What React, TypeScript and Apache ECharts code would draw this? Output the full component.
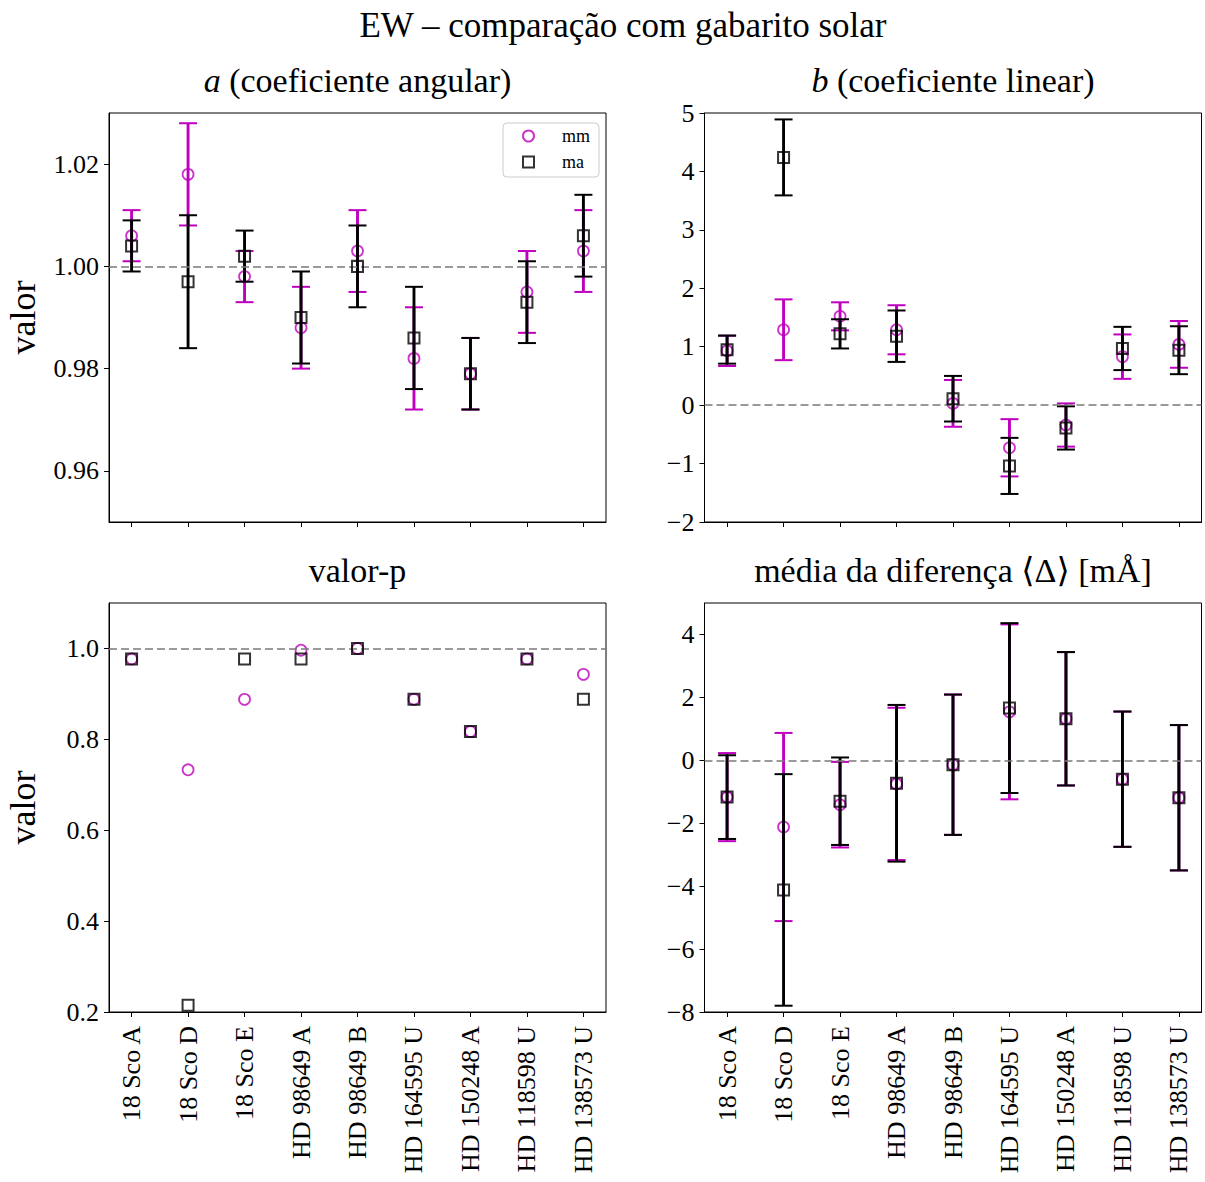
import React, { useEffect, useRef } from "react";
import * as echarts from "echarts";

const categories = [
  "18 Sco A",
  "18 Sco D",
  "18 Sco E",
  "HD 98649 A",
  "HD 98649 B",
  "HD 164595 U",
  "HD 150248 A",
  "HD 118598 U",
  "HD 138573 U",
];

// a (coeficiente angular)
const aMm = [1.006, 1.018, 0.998, 0.988, 1.003, 0.982, 0.979, 0.995, 1.003];
const aMmErr = [0.005, 0.01, 0.005, 0.008, 0.008, 0.01, 0.007, 0.008, 0.008];
const aMa = [1.004, 0.997, 1.002, 0.99, 1.0, 0.986, 0.979, 0.993, 1.006];
const aMaErr = [0.005, 0.013, 0.005, 0.009, 0.008, 0.01, 0.007, 0.008, 0.008];

// b (coeficiente linear)
const bMm = [0.93, 1.29, 1.52, 1.29, 0.03, -0.73, -0.34, 0.83, 1.04];
const bMmErr = [0.26, 0.52, 0.24, 0.42, 0.4, 0.49, 0.37, 0.38, 0.4];
const bMa = [0.95, 4.24, 1.22, 1.18, 0.11, -1.04, -0.39, 0.97, 0.94];
const bMaErr = [0.24, 0.65, 0.25, 0.44, 0.39, 0.48, 0.37, 0.37, 0.41];

// valor-p
const pMm = [0.977, 0.733, 0.888, 0.996, 1.0, 0.888, 0.817, 0.977, 0.943];
const pMa = [0.977, 0.215, 0.977, 0.977, 1.0, 0.888, 0.817, 0.977, 0.888];

// média da diferença
const dMm = [-1.17, -2.12, -1.41, -0.75, -0.14, 1.54, 1.32, -0.6, -1.19];
const dMmErr = [1.4, 2.99, 1.36, 2.42, 2.23, 2.78, 2.12, 2.15, 2.31];
const dMa = [-1.17, -4.12, -1.3, -0.73, -0.14, 1.66, 1.32, -0.6, -1.19];
const dMaErr = [1.33, 3.68, 1.39, 2.49, 2.23, 2.7, 2.12, 2.15, 2.31];

// tick values
const xTicks = [0, 1, 2, 3, 4, 5, 6, 7, 8];
const aTicks = [0.96, 0.98, 1.0, 1.02];
const bTicks = [-2, -1, 0, 1, 2, 3, 4, 5];
const pTicks = [0.2, 0.4, 0.6, 0.8, 1.0];
const dTicks = [-8, -6, -4, -2, 0, 2, 4];

const MAG = "#bf00bf";
const BLK = "#000000";
const FONT = "'Liberation Serif', 'DejaVu Serif', serif";

const minus = (s: string) => s.replace("-", "\u2212");

export default function App() {
  const ref = useRef<HTMLDivElement>(null);

  useEffect(() => {
    if (!ref.current) return;
    const chart = echarts.init(ref.current, undefined, { renderer: "svg" });

    const W = 497;
    const H = 409;
    const gridBase = { width: W, height: H, show: true, borderColor: "#000", borderWidth: 1, backgroundColor: "transparent" };
    const grids = [
      { ...gridBase, left: 109, top: 113 },
      { ...gridBase, left: 704.5, top: 113 },
      { ...gridBase, left: 109, top: 603 },
      { ...gridBase, left: 704.5, top: 603 },
    ];

    const xAxis = grids.map((_, gi) => ({
      type: "value",
      gridIndex: gi,
      min: -0.4,
      max: 8.4,
      splitLine: { show: false },
      axisLine: { show: true, onZero: false, lineStyle: { color: "#000", width: 1 } },
      axisTick: { show: true, customValues: xTicks, length: 5, lineStyle: { color: "#000", width: 1 } },
      axisLabel: {
        show: gi >= 2,
        customValues: xTicks,
        rotate: 90,
        margin: 14,
        color: "#000",
        fontFamily: FONT,
        fontSize: 26,
        formatter: (v: number) => categories[Math.round(v)] ?? "",
      },
    }));

    const yCfg = [
      { min: 0.95, max: 1.03, ticks: aTicks, fmt: (v: number) => v.toFixed(2) },
      { min: -2, max: 5, ticks: bTicks, fmt: (v: number) => minus(String(Math.round(v))) },
      { min: 0.2, max: 1.1, ticks: pTicks, fmt: (v: number) => v.toFixed(1) },
      { min: -8, max: 5, ticks: dTicks, fmt: (v: number) => minus(String(Math.round(v))) },
    ];

    const yAxis = yCfg.map((c, gi) => ({
      type: "value",
      gridIndex: gi,
      min: c.min,
      max: c.max,
      splitLine: { show: false },
      axisLine: { show: true, onZero: false, lineStyle: { color: "#000", width: 1 } },
      axisTick: { show: true, customValues: c.ticks, length: 5, lineStyle: { color: "#000", width: 1 } },
      axisLabel: {
        show: true,
        customValues: c.ticks,
        margin: 10,
        color: "#000",
        fontFamily: FONT,
        fontSize: 26,
        formatter: c.fmt,
      },
    }));

    const errSeries = (gi: number, vals: number[], errs: number[], color: string, z: number) => ({
      type: "custom",
      name: "err-" + gi + "-" + color,
      xAxisIndex: gi,
      yAxisIndex: gi,
      z,
      silent: true,
      encode: { x: 0, y: [1, 2] },
      data: vals.map((v, i) => [i, v - errs[i], v + errs[i]]),
      renderItem: (_params: any, api: any) => {
        const x = api.value(0);
        const lo = api.coord([x, api.value(1)]);
        const hi = api.coord([x, api.value(2)]);
        const cw = 9;
        return {
          type: "group",
          children: [
            { type: "line", shape: { x1: lo[0], y1: lo[1], x2: hi[0], y2: hi[1] }, style: { stroke: color, lineWidth: 2.9 } },
            { type: "line", shape: { x1: lo[0] - cw, y1: lo[1], x2: lo[0] + cw, y2: lo[1] }, style: { stroke: color, lineWidth: 2 } },
            { type: "line", shape: { x1: hi[0] - cw, y1: hi[1], x2: hi[0] + cw, y2: hi[1] }, style: { stroke: color, lineWidth: 2 } },
          ],
        };
      },
    });

    const markSeries = (gi: number, name: string, vals: number[], symbol: string, color: string, z: number, refVal?: number) => {
      const s: any = {
        type: "scatter",
        name,
        xAxisIndex: gi,
        yAxisIndex: gi,
        z,
        symbol,
        symbolSize: 11,
        silent: true,
        itemStyle: { color: "rgba(0,0,0,0)", borderColor: color, borderWidth: symbol === "rect" ? 2 : 1.8 },
        data: vals.map((v, i) => [i, v]),
      };
      if (refVal !== undefined) {
        s.markLine = {
          silent: true,
          symbol: "none",
          label: { show: false },
          lineStyle: { color: "#7a7a7a", type: [8, 4], width: 1.5 },
          data: [{ yAxis: refVal }],
        };
      }
      return s;
    };

    const series: any[] = [
      // a
      errSeries(0, aMm, aMmErr, MAG, 2),
      markSeries(0, "mm", aMm, "circle", MAG, 3, 1),
      errSeries(0, aMa, aMaErr, BLK, 4),
      markSeries(0, "ma", aMa, "rect", BLK, 5),
      // b
      errSeries(1, bMm, bMmErr, MAG, 2),
      markSeries(1, "mm", bMm, "circle", MAG, 3, 0),
      errSeries(1, bMa, bMaErr, BLK, 4),
      markSeries(1, "ma", bMa, "rect", BLK, 5),
      // p
      markSeries(2, "mm", pMm, "circle", MAG, 3, 1),
      markSeries(2, "ma", pMa, "rect", BLK, 5),
      // d
      errSeries(3, dMm, dMmErr, MAG, 2),
      markSeries(3, "mm", dMm, "circle", MAG, 3, 0),
      errSeries(3, dMa, dMaErr, BLK, 4),
      markSeries(3, "ma", dMa, "rect", BLK, 5),
    ];

    const titleText = (text: string, x: number, y: number, size: number, rich?: any) => ({
      type: "text",
      x,
      y,
      silent: true,
      style: {
        text,
        fill: "#000",
        fontFamily: FONT,
        fontSize: size,
        align: "center",
        verticalAlign: "middle",
        rich,
      },
    });

    const italic = (size: number) => ({
      i: { fontStyle: "italic", fontFamily: FONT, fontSize: size, fill: "#000" },
      n: { fontFamily: FONT, fontSize: size, fill: "#000" },
    });

    const graphic: any[] = [
      titleText("EW \u2013 comparação com gabarito solar", 623, 25.5, 35),
      titleText("{i|a}{n| (coeficiente angular)}", 357.5, 80, 34, italic(34)),
      titleText("{i|b}{n| (coeficiente linear)}", 953, 80, 34, italic(34)),
      titleText("valor-p", 357.5, 570.5, 34),
      titleText("média da diferença \u27E8\u0394\u27E9 [mÅ]", 953, 570.5, 34),
      { ...titleText("valor", 23, 317.5, 36), rotation: Math.PI / 2 },
      { ...titleText("valor", 23, 807.5, 36), rotation: Math.PI / 2 },
    ];

    chart.setOption({
      animation: false,
      backgroundColor: "#fff",
      grid: grids,
      xAxis,
      yAxis,
      series,
      graphic,
      legend: {
        data: ["mm", "ma"],
        orient: "vertical",
        left: 503,
        top: 123,
        padding: [4, 9, 6, 19],
        itemWidth: 11,
        itemHeight: 11,
        itemGap: 8,
        selectedMode: false,
        backgroundColor: "rgba(255,255,255,0.8)",
        borderColor: "#cccccc",
        borderWidth: 1,
        borderRadius: 4,
        textStyle: { fontFamily: FONT, fontSize: 18, color: "#000", lineHeight: 18, padding: [0, 0, 0, 23] },
      },
    });

    return () => chart.dispose();
  }, []);

  return <div ref={ref} style={{ position: "absolute", left: 0, top: 0, width: 1205, height: 1182 }} />;
}
